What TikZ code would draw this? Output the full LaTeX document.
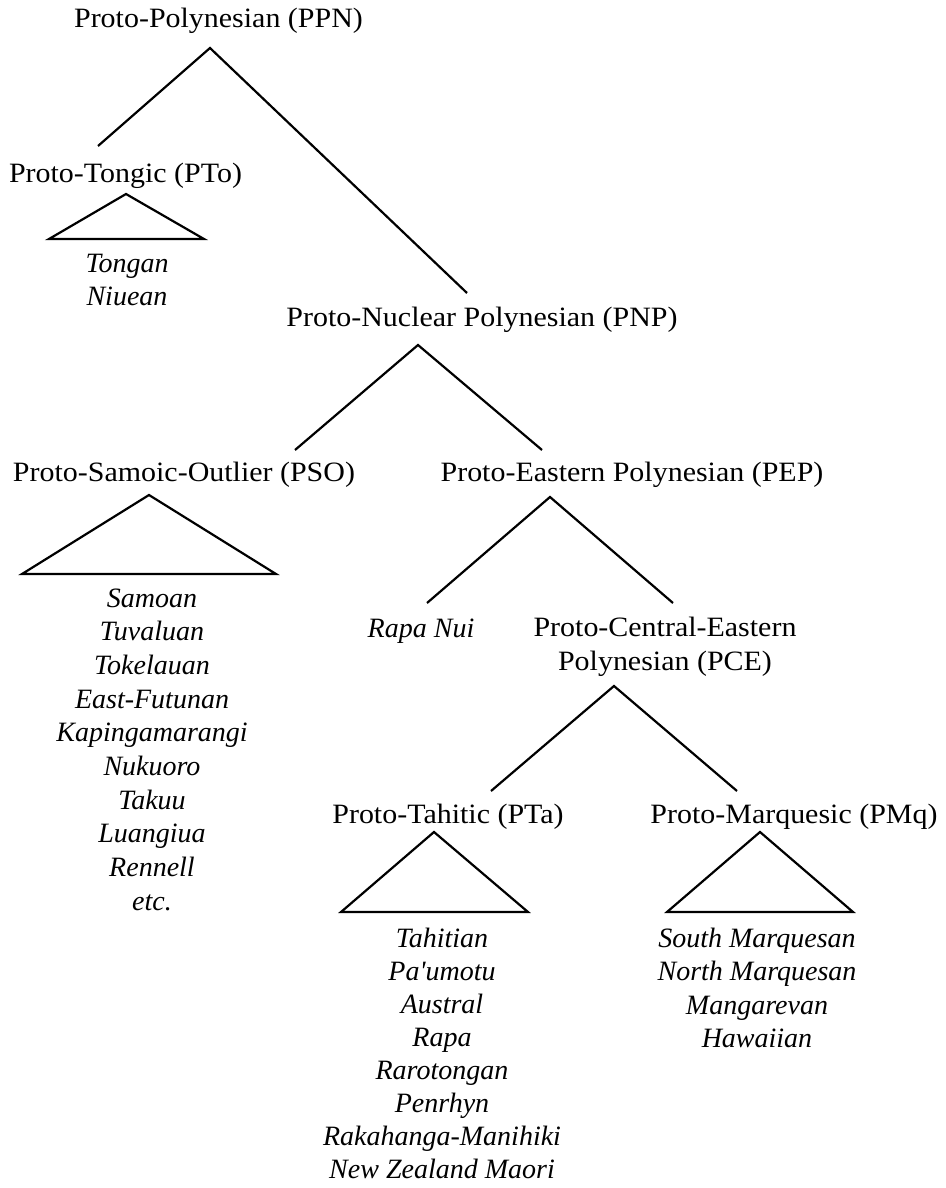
\documentclass[tikz,border=0pt]{standalone}
\usepackage{fontspec}
\setmainfont{Liberation Serif}[UprightFeatures={FakeStretch=1.07}]
\begin{document}
\begin{tikzpicture}[x=1pt,y=-1pt,
  lbl/.style={anchor=base, inner sep=0pt, font=\fontsize{28}{34}\selectfont},
  lang/.style={anchor=base, inner sep=0pt, font=\fontsize{28}{34}\selectfont\itshape},
  br/.style={line width=2.2pt, line join=miter, line cap=butt},
  tri/.style={line width=2.2pt, line join=miter}]
\useasboundingbox (0,0) rectangle (945,1188);
% group labels
\node[lbl] (ppn) at (218.5,28) {Proto-Polynesian (PPN)};
\node[lbl] (pto) at (125.5,182) {Proto-Tongic (PTo)};
\node[lbl] (pnp) at (482,326) {Proto-Nuclear Polynesian (PNP)};
\node[lbl] (pso) at (184,481) {Proto-Samoic-Outlier (PSO)};
\node[lbl] (pep) at (632,481) {Proto-Eastern Polynesian (PEP)};
\node[lang] (rapanui) at (421,637) {Rapa Nui};
\node[lbl] (pce1) at (665,636) {Proto-Central-Eastern};
\node[lbl] (pce2) at (665,670) {Polynesian (PCE)};
\node[lbl] (pta) at (448,823) {Proto-Tahitic (PTa)};
\node[lbl] (pmq) at (794,823) {Proto-Marquesic (PMq)};
% branch points
\coordinate (ppnA) at (210,48);  \coordinate (ppnL) at (98,146);  \coordinate (ppnR) at (467,293);
\coordinate (pnpA) at (418,345); \coordinate (pnpL) at (295,450); \coordinate (pnpR) at (542,450);
\coordinate (pepA) at (550,497); \coordinate (pepL) at (427,603); \coordinate (pepR) at (673,603);
\coordinate (pceA) at (614,686); \coordinate (pceL) at (491,791); \coordinate (pceR) at (737,791);
\coordinate (ptoA) at (126,194); \coordinate (ptoL) at (49,239);  \coordinate (ptoR) at (204,239);
\coordinate (psoA) at (149,495); \coordinate (psoL) at (22,574);  \coordinate (psoR) at (276,574);
\coordinate (ptaA) at (434,832); \coordinate (ptaL) at (341,912); \coordinate (ptaR) at (528,912);
\coordinate (pmqA) at (760,832); \coordinate (pmqL) at (667,912); \coordinate (pmqR) at (853,912);
% branches
\draw[br] (ppnL) -- (ppnA) -- (ppnR);
\draw[br] (pnpL) -- (pnpA) -- (pnpR);
\draw[br] (pepL) -- (pepA) -- (pepR);
\draw[br] (pceL) -- (pceA) -- (pceR);
% triangles
\draw[tri] (ptoA) -- (ptoL) -- (ptoR) -- cycle;
\draw[tri] (psoA) -- (psoL) -- (psoR) -- cycle;
\draw[tri] (ptaA) -- (ptaL) -- (ptaR) -- cycle;
\draw[tri] (pmqA) -- (pmqL) -- (pmqR) -- cycle;
% language lists
\node[lang] (tongan) at (127,272) {Tongan};
\node[lang] (niuean) at (127,305) {Niuean};
\foreach \t [count=\i from 0] in {Samoan,Tuvaluan,Tokelauan,East-Futunan,Kapingamarangi,Nukuoro,Takuu,Luangiua,Rennell,etc.}
  \node[lang] (pso-\i) at (152,607+33.7*\i) {\t};
\foreach \t [count=\i from 0] in {Tahitian,Pa\textquotesingle umotu,Austral,Rapa,Rarotongan,Penrhyn,Rakahanga-Manihiki,New Zealand Maori}
  \node[lang] (pta-\i) at (442,947+33.1*\i) {\t};
\foreach \t [count=\i from 0] in {South Marquesan,North Marquesan,Mangarevan,Hawaiian}
  \node[lang] (pmq-\i) at (757,947+33.6*\i) {\t};
\end{tikzpicture}
\end{document}
